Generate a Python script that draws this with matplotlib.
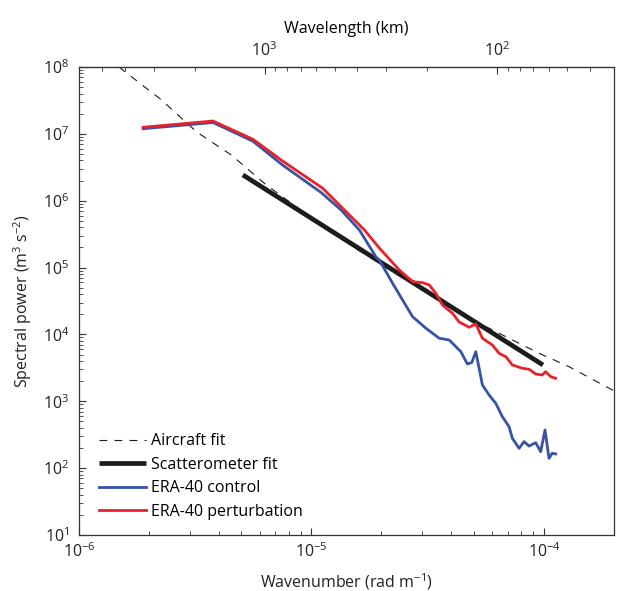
import numpy as np
import matplotlib
matplotlib.use("Agg")
import matplotlib.pyplot as plt
from matplotlib.ticker import LogLocator, NullFormatter, FixedLocator

plt.rcParams['font.family'] = ['Open Sans', 'DejaVu Sans']
plt.rcParams['mathtext.fontset'] = 'custom'
plt.rcParams['mathtext.rm'] = 'Open Sans'
plt.rcParams['mathtext.it'] = 'Open Sans:italic'
plt.rcParams['mathtext.bf'] = 'Open Sans:bold'

# ---- data ----
aircraft_k = [1.486e-6, 2.265e-6, 3.199e-6, 4.519e-6, 6.397e-6, 1.0e-5, 1.585e-5,
              2.512e-5, 3.981e-5, 5.26e-5, 6.41e-5, 7.82e-5, 9.53e-5, 1.279e-4, 2.0e-4]
aircraft_p = [1.0e8, 3.21e7, 1.076e7, 4.83e6, 1.718e6, 5.55e5, 1.84e5,
              6.72e4, 2.65e4, 1.469e4, 1.04e4, 7.36e3, 5.22e3, 3.30e3, 1.43e3]

scat_k = [5.07e-6, 9.9e-5]
scat_p = [2.43e6, 3.49e3]

ctrl_k = [1.888e-6, 3.77e-6, 5.60e-6, 7.51e-6, 1.100e-5, 1.341e-5, 1.607e-5, 1.895e-5,
          1.957e-5, 2.233e-5, 2.465e-5, 2.721e-5, 3.107e-5, 3.542e-5, 3.91e-5, 4.389e-5,
          4.684e-5, 4.893e-5, 5.09e-5, 5.26e-5, 5.434e-5, 5.804e-5, 6.203e-5, 6.622e-5,
          7.076e-5, 7.309e-5, 7.811e-5, 8.207e-5, 8.622e-5, 9.213e-5, 9.678e-5, 1.010e-4,
          1.051e-4, 1.085e-4, 1.122e-4]
ctrl_p = [1.194e7, 1.479e7, 7.76e6, 3.42e6, 1.327e6, 7.26e5, 3.65e5, 1.44e5,
          1.298e5, 5.82e4, 3.27e4, 1.842e4, 1.235e4, 8.76e3, 8.26e3, 5.52e3,
          3.61e3, 3.80e3, 5.52e3, 3.12e3, 1.753e3, 1.243e3, 9.33e2, 5.88e2,
          4.17e2, 2.80e2, 1.98e2, 2.49e2, 2.14e2, 2.40e2, 1.76e2, 3.72e2,
          1.40e2, 1.67e2, 1.63e2]

pert_k = [1.888e-6, 3.77e-6, 5.60e-6, 7.51e-6, 1.118e-5, 1.276e-5, 1.689e-5, 1.957e-5,
          2.386e-5, 2.721e-5, 3.004e-5, 3.209e-5, 3.428e-5, 3.659e-5, 4.04e-5, 4.316e-5,
          4.764e-5, 5.09e-5, 5.434e-5, 5.998e-5, 6.409e-5, 6.848e-5, 7.309e-5, 8.07e-5,
          8.622e-5, 9.213e-5, 9.83e-5, 1.017e-4, 1.069e-4, 1.122e-4]
pert_p = [1.254e7, 1.557e7, 8.29e6, 3.93e6, 1.534e6, 9.67e5, 3.65e5, 1.963e5,
          9.2e4, 6.15e4, 5.94e4, 5.49e4, 4.12e4, 2.755e4, 2.07e4, 1.535e4,
          1.279e4, 1.432e4, 8.76e3, 6.95e3, 5.22e3, 4.65e3, 3.49e3, 3.12e3,
          3.01e3, 2.56e3, 2.47e3, 2.77e3, 2.33e3, 2.21e3]

labels = ["Aircraft fit", "Scatterometer fit", "ERA-40 control", "ERA-40 perturbation"]

x_major = [1e-6, 1e-5, 1e-4]
y_major = [1e1, 1e2, 1e3, 1e4, 1e5, 1e6, 1e7, 1e8]
top_major = [1000, 100]
top_minor = [5000, 4000, 3000, 2000, 900, 800, 700, 600, 500, 400, 300, 200, 90, 80, 70, 60, 50, 40]

RED = "#e8212b"
BLUE = "#3853a4"
BLACK = "#1c1c1c"

fig = plt.figure(figsize=(6.18, 5.91), dpi=100)
ax = fig.add_axes([0.1278, 0.0948, 0.9935 - 0.1278, 0.8866 - 0.0948])

la, = ax.plot(aircraft_k, aircraft_p, color=BLACK, lw=0.8, dashes=(7, 6.5), zorder=2)
ls, = ax.plot(scat_k, scat_p, color=BLACK, lw=3.4, solid_capstyle='butt', zorder=3)
lc, = ax.plot(ctrl_k, ctrl_p, color=BLUE, lw=2.0, zorder=4)
lp, = ax.plot(pert_k, pert_p, color=RED, lw=2.0, zorder=5)

ax.set_xscale('log')
ax.set_yscale('log')
ax.set_xlim(1e-6, 2e-4)
ax.set_ylim(1e1, 1e8)

ax.xaxis.set_major_locator(FixedLocator(x_major))
ax.xaxis.set_minor_locator(LogLocator(base=10, subs=np.arange(2, 10), numticks=100))
ax.yaxis.set_major_locator(FixedLocator(y_major))
ax.yaxis.set_minor_locator(LogLocator(base=10, subs=np.arange(2, 10), numticks=100))
ax.xaxis.set_minor_formatter(NullFormatter())
ax.yaxis.set_minor_formatter(NullFormatter())

ax.tick_params(which='both', direction='in', top=False, right=False, labelsize=11.5,
               color='#333333', labelcolor='#222222')
ax.tick_params(which='major', length=5, width=0.8)
ax.tick_params(which='minor', length=3, width=0.6)
ax.tick_params(axis='x', pad=5)
ax.tick_params(axis='y', pad=7)
for s in ax.spines.values():
    s.set_linewidth(0.9)
    s.set_color('#333333')

def k_to_lambda(k):
    k = np.asarray(k, dtype=float)
    with np.errstate(divide='ignore'):
        return 2 * np.pi / (k * 1000.0)

sec = ax.secondary_xaxis('top', functions=(k_to_lambda, k_to_lambda))
sec.xaxis.set_major_locator(FixedLocator(top_major))
sec.xaxis.set_minor_locator(FixedLocator(top_minor))
sec.xaxis.set_minor_formatter(NullFormatter())
sec.tick_params(which='both', direction='in', labelsize=11.5, color='#333333',
                labelcolor='#222222')
sec.tick_params(which='major', length=5, width=0.8, pad=5)
sec.tick_params(which='minor', length=3, width=0.6)
sec.set_xlabel("Wavelength (km)", fontsize=11.5, labelpad=6)

ax.set_xlabel("Wavenumber (rad m$^{-1}$)", fontsize=11.5, labelpad=8, color='#222222')
ax.set_ylabel("Spectral power (m$^{3}$ s$^{-2}$)", fontsize=11.5, labelpad=6, color='#222222')

ax.legend([la, ls, lc, lp], labels, loc='lower left', bbox_to_anchor=(0.02, 0.012),
          frameon=False, fontsize=11.5, handlelength=2.9, handletextpad=0.35,
          labelspacing=0.47, borderaxespad=0.2)

fig.savefig("out.png", dpi=100)
